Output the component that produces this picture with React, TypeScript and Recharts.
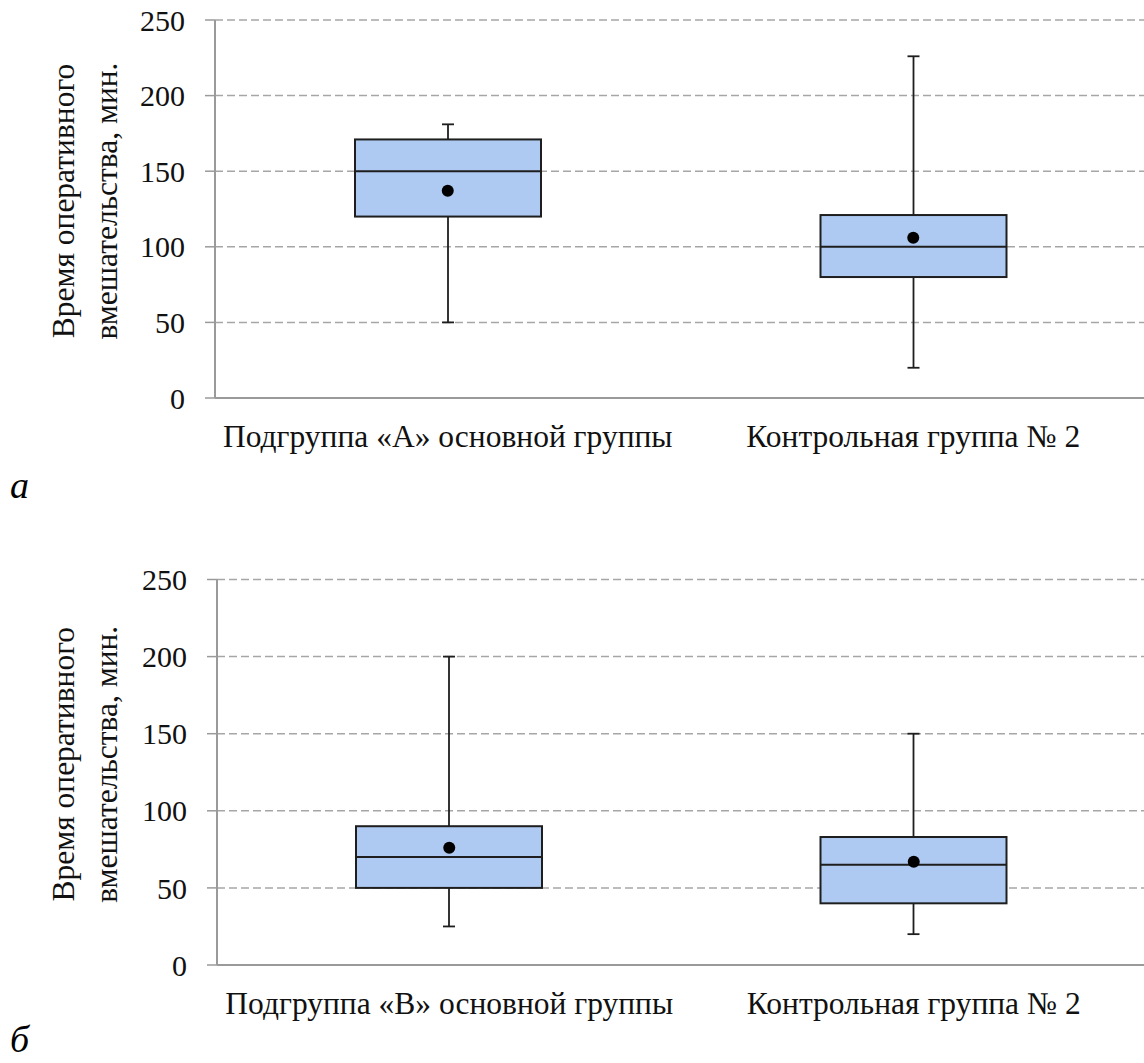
import React from 'react';
import { ComposedChart, Bar, Scatter, XAxis, YAxis, CartesianGrid } from 'recharts';

// panel а
const categoriesA = ['Подгруппа «А» основной группы', 'Контрольная группа № 2'];
const minA = [50, 20];
const q1A = [120, 80];
const medianA = [150, 100];
const q3A = [171, 121];
const maxA = [181, 226];
const meanA = [137, 106];

// panel б
const categoriesB = ['Подгруппа «В» основной группы', 'Контрольная группа № 2'];
const minB = [25, 20];
const q1B = [50, 40];
const medianB = [70, 65];
const q3B = [90, 83];
const maxB = [200, 150];
const meanB = [76, 67];

const yTicks = [0, 50, 100, 150, 200, 250];

const FONT = '"Liberation Serif", "Times New Roman", serif';
const BOX_FILL = '#aecaf2';
const INK = '#1e1e1e';
const GRID = '#a6a6a6';

const build = (cats: string[], mn: number[], q1: number[], md: number[], q3: number[], mx: number[], mean: number[]) =>
  cats.map((name, i) => ({ name, min: mn[i], q1: q1[i], median: md[i], q3: q3[i], max: mx[i], mean: mean[i] }));

const BoxShape = (props: any) => {
  const { x, y, width, height, payload } = props;
  if (height == null || !payload) return null;
  const k = height / (payload.q3 - payload.q1);
  const cx = x + width / 2;
  const yMax = y - (payload.max - payload.q3) * k;
  const yMin = y + height + (payload.q1 - payload.min) * k;
  const yMed = y + (payload.q3 - payload.median) * k;
  const cap = 6;
  return (
    <g>
      <line x1={cx} x2={cx} y1={yMax} y2={y} stroke={INK} strokeWidth={1.8} />
      <line x1={cx} x2={cx} y1={y + height} y2={yMin} stroke={INK} strokeWidth={1.8} />
      <line x1={cx - cap} x2={cx + cap} y1={yMax} y2={yMax} stroke={INK} strokeWidth={1.8} />
      <line x1={cx - cap} x2={cx + cap} y1={yMin} y2={yMin} stroke={INK} strokeWidth={1.8} />
      <rect x={x} y={y} width={width} height={height} fill={BOX_FILL} stroke={INK} strokeWidth={2} />
      <line x1={x} x2={x + width} y1={yMed} y2={yMed} stroke={INK} strokeWidth={2} />
    </g>
  );
};

const MeanDot = (props: any) => <circle cx={props.cx} cy={props.cy} r={6} fill="#000" />;

const YTitle = (props: any) => {
  const vb = props.viewBox || {};
  const cy = vb.y + vb.height / 2 - 8;
  return (
    <g fontFamily={FONT} fontSize={31.5} fill="#111">
      <text x={63} y={cy} transform={`rotate(-90 63 ${cy})`} textAnchor="middle" dominantBaseline="central">
        Время оперативного
      </text>
      <text x={106} y={cy} transform={`rotate(-90 106 ${cy})`} textAnchor="middle" dominantBaseline="central">
        вмешательства, мин.
      </text>
    </g>
  );
};

const BoxPanel = ({ data, axisWidth, marginTop, marginBottom }: any) => (
  <ComposedChart
    width={1146}
    height={470}
    data={data}
    margin={{ top: marginTop, right: 0, left: 0, bottom: marginBottom }}
    barCategoryGap="10%"
  >
    <CartesianGrid vertical={false} stroke={GRID} strokeDasharray="8 4" strokeWidth={1.5} />
    <XAxis
      dataKey="name"
      height={60}
      tickLine={false}
      tickSize={0}
      tickMargin={26.5}
      axisLine={{ stroke: '#9a9a9a', strokeWidth: 2 }}
      tick={{ fontFamily: FONT, fontSize: 31.5, fill: '#111' }}
    />
    <YAxis
      width={axisWidth}
      domain={[0, 250]}
      ticks={yTicks}
      interval={0}
      tickSize={10}
      tickMargin={20}
      axisLine={{ stroke: '#9a9a9a', strokeWidth: 2 }}
      tickLine={{ stroke: '#9a9a9a', strokeWidth: 1.5 }}
      tick={{ fontFamily: FONT, fontSize: 30, fill: '#111' }}
      label={<YTitle />}
    />
    <Bar dataKey={(d: any) => [d.q1, d.q3]} barSize={186} shape={<BoxShape />} isAnimationActive={false} />
    <Scatter dataKey="mean" shape={<MeanDot />} isAnimationActive={false} />
  </ComposedChart>
);

export default function App() {
  const dataA = build(categoriesA, minA, q1A, medianA, q3A, maxA, meanA);
  const dataB = build(categoriesB, minB, q1B, medianB, q3B, maxB, meanB);
  return (
    <div style={{ position: 'absolute', left: 0, top: 0, width: 1144, height: 1063, overflow: 'hidden', background: '#fff', fontFamily: FONT }}>
      <div style={{ position: 'absolute', left: 0, top: 0 }}>
        <BoxPanel data={dataA} axisWidth={215} marginTop={20} marginBottom={12} />
      </div>
      <div style={{ position: 'absolute', left: 10, top: 466, fontSize: 38, fontStyle: 'italic', lineHeight: 1 }}>а</div>
      <div style={{ position: 'absolute', left: 10, top: 1020, fontSize: 38, fontStyle: 'italic', lineHeight: 1 }}>б</div>
      <div style={{ position: 'absolute', left: 0, top: 560 }}>
        <BoxPanel data={dataB} axisWidth={217} marginTop={19.5} marginBottom={5} />
      </div>
    </div>
  );
}
